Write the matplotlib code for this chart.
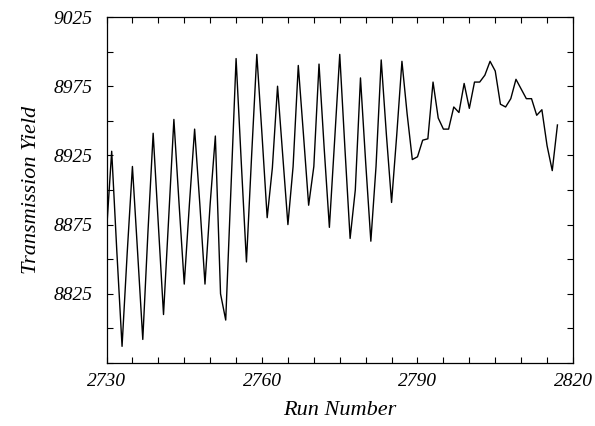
import matplotlib.pyplot as plt
import numpy as np

runs = np.arange(2730, 2818)
yields = [
    8870, 8928, 8855, 8787, 8855, 8917, 8855, 8792, 8870, 8941,
    8875, 8810, 8880, 8951, 8890, 8832, 8890, 8944, 8890, 8832,
    8890, 8939, 8825, 8806, 8900, 8995, 8920, 8848, 8925, 8998,
    8940, 8880, 8916, 8975, 8925, 8875, 8917, 8990, 8940, 8889,
    8917, 8991, 8930, 8873, 8935, 8998, 8930, 8865, 8900, 8981,
    8920, 8863, 8917, 8994, 8940, 8891, 8940, 8993, 8955, 8922,
    8924, 8936, 8937, 8978, 8952, 8944, 8944, 8960, 8956, 8977,
    8959, 8978, 8978, 8983, 8993, 8986, 8962, 8960, 8966, 8980,
    8973, 8966, 8966, 8954, 8958, 8932, 8914, 8947,
]
x_labels = [2730, 2760, 2790, 2820]
y_labels = [8825, 8875, 8925, 8975, 9025]

plt.rcParams['font.family'] = 'Liberation Serif'
plt.rcParams['font.style'] = 'italic'

fig = plt.figure(figsize=(5.95, 4.26), dpi=100)
ax = fig.add_axes([0.179, 0.148, 0.784, 0.812])

ax.plot(runs, yields, color='black', lw=1.0)

ax.set_xlim(2730, 2820)
ax.set_ylim(8775, 9025)
ax.set_xticks(x_labels)
ax.set_xticks(np.arange(2730, 2821, 5), minor=True)
ax.set_yticks(y_labels)
ax.set_yticks(np.arange(8775, 9026, 25), minor=True)

ax.tick_params(which='both', direction='in', top=True, right=True,
               length=4.5, width=0.8)
ax.tick_params(axis='x', which='major', labelsize=14, pad=7)
ax.tick_params(axis='y', which='major', labelsize=14, pad=10)

for s in ax.spines.values():
    s.set_linewidth(0.9)

ax.set_xlabel('Run Number', fontsize=16, labelpad=8)
ax.set_ylabel('Transmission Yield', fontsize=16, labelpad=9)

fig.savefig('out.png', dpi=100)
